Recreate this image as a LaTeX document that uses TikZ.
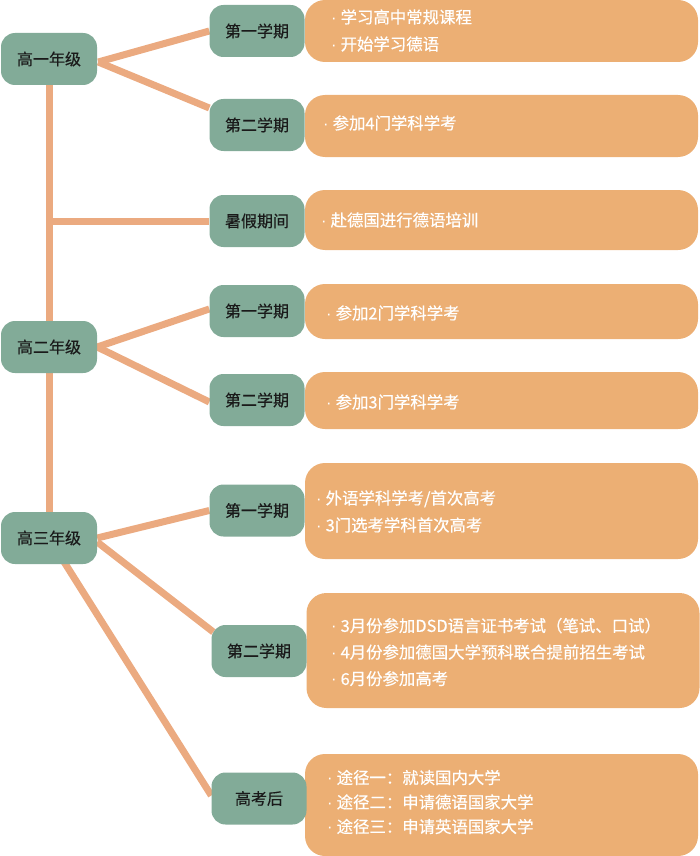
\documentclass[tikz,border=0pt]{standalone}
\usepackage{fontspec}
\setmainfont{Noto Sans CJK SC}
\newfontfamily\cjk[FakeBold=0.4]{Noto Sans CJK SC}
\newfontfamily\cjkw[FakeBold=0.5]{Noto Sans CJK SC}
\newfontfamily\dotfont{Liberation Sans}
\newcommand{\bul}{{\dotfont ·}\hspace{4pt}}
\usetikzlibrary{backgrounds,calc}
\definecolor{gnode}{HTML}{82AB98}
\definecolor{obox}{HTML}{ECAF74}
\definecolor{link}{HTML}{EBAA80}
\definecolor{ink}{HTML}{1A1A1A}
\tikzset{
  grade/.style={draw=none, fill=gnode, rounded corners=14pt, minimum width=96pt, minimum height=52pt, inner sep=0pt, font=\cjk\fontsize{16}{20}\selectfont, text=ink},
  term/.style={grade, minimum width=95pt},
  infobox/.style={draw=none, fill=obox, rounded corners=20pt, minimum width=393pt, inner sep=0pt},
  infotext/.style={anchor=west, align=left, inner sep=0pt, text=white, font=\cjkw\fontsize{16.4}{27}\selectfont},
  linkline/.style={draw=link, line width=7pt}
}
\begin{document}
\begin{tikzpicture}[x=1pt,y=-1pt]
\useasboundingbox (0,0) rectangle (700,856);
% grades
\node[grade] (g1) at (49,59) {高一年级};
\node[grade] (g2) at (49,347) {高二年级};
\node[grade] (g3) at (49,538) {高三年级};
% terms
\node[term] (s11) at (257,31) {第一学期};
\node[term] (s12) at (257,125) {第二学期};
\node[term] (s13) at (257,221) {暑假期间};
\node[term] (s21) at (257,311) {第一学期};
\node[term] (s22) at (257,400) {第二学期};
\node[term] (s31) at (257,510.5) {第一学期};
\node[term] (s32) at (259,651) {第二学期};
\node[term] (s4) at (259,798.5) {高考后};
% info boxes
\begin{scope}[on background layer]
\node[infobox, minimum height=62pt] (b1) at (501.5,31) {};
\node[infobox, minimum height=62pt] (b2) at (501.5,126) {};
\node[infobox, minimum height=60pt] (b3) at (501.5,220) {};
\node[infobox, minimum height=55pt] (b4) at (501.5,311.5) {};
\node[infobox, minimum height=57pt] (b5) at (501.5,400.5) {};
\node[infobox, minimum height=96pt] (b6) at (501.5,511) {};
\node[infobox, minimum height=115pt] (b7) at (503,650.5) {};
\node[infobox, minimum height=102pt] (b8) at (501.5,805) {};
\end{scope}
\node[infotext] (t1) at (331,30.5) {\bul 学习高中常规课程\\\bul 开始学习德语};
\node[infotext] (t2) at (323,123) {\bul 参加4门学科学考};
\node[infotext] (t3) at (321,220) {\bul 赴德国进行德语培训};
\node[infotext] (t4) at (326,313) {\bul 参加2门学科学考};
\node[infotext] (t5) at (326,402) {\bul 参加3门学科学考};
\node[infotext] (t6) at (316,511.5) {\bul 外语学科学考/首次高考\\\bul 3门选考学科首次高考};
\node[infotext, font=\cjkw\fontsize{16.4}{26.5}\selectfont] (t7) at (331,652) {\bul 3月份参加DSD语言证书考试（笔试、口试）\\\bul 4月份参加德国大学预科联合提前招生考试\\\bul 6月份参加高考};
\node[infotext, font=\cjkw\fontsize{16.4}{24.5}\selectfont] (t8) at (327,802) {\bul 途径一：就读国内大学\\\bul 途径二：申请德语国家大学\\\bul 途径三：申请英语国家大学};
% connectors
\begin{scope}[on background layer]
\coordinate (g1out) at ($(g1.east)+(1,3)$);
\draw[linkline] (g1out) -- (s11.west);
\draw[linkline] (g1out) -- ($(s12.west)+(0,-17)$);
\draw[linkline] (g1.center) -- (g2.center) -- (g3.center);
\draw[linkline] (g1 |- s13) -- (s13.west);
\draw[linkline] (g2.east) -- ($(s21.west)+(0,-2)$);
\draw[linkline] (g2.east) -- ($(s22.west)+(0,2)$);
\draw[linkline] (g3.east) -- (s31.west);
\draw[linkline] ($(g3.east)+(0,4)$) -- ($(s32.west)+(2,-19)$);
\draw[linkline] (g3.center) -- ($(s4.west)+(0,-3)$);
\end{scope}
\end{tikzpicture}
\end{document}
